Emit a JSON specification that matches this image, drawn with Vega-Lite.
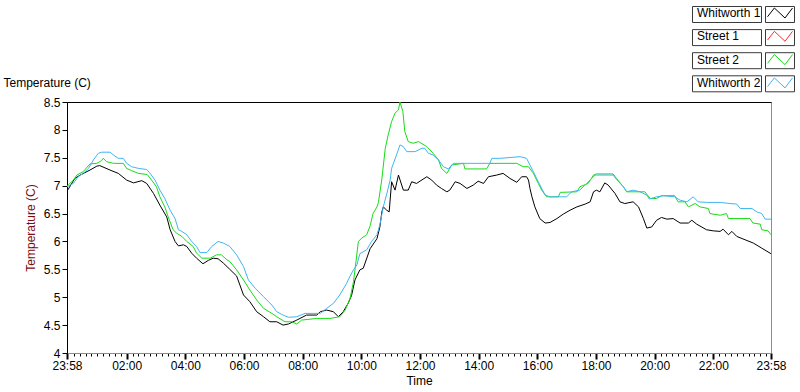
{
  "$schema": "https://vega.github.io/schema/vega-lite/v6.json",
  "autosize": {"type": "none"},
  "padding": {"left": 67, "top": 102, "right": 29, "bottom": 39},
  "width": 704,
  "height": 251,
  "background": "white",
  "config": {
    "font": "Liberation Sans",
    "view": {"stroke": "#8c8c8c", "strokeWidth": 1},
    "axis": {"labelFont": "Liberation Sans", "titleFont": "Liberation Sans", "labelFontSize": 12, "titleFontSize": 12, "titleFontWeight": "normal", "labelColor": "black", "titleColor": "black", "grid": false},
    "axisY": {"titleColor": "#7a0e0e", "titlePadding": 6, "values": [4,4.5,5,5.5,6,6.5,7,7.5,8,8.5], "format": "~g", "labelOverlap": false, "tickSize": 5, "tickColor": "black", "domainColor": "black", "labelPadding": 2}
  },
  "datasets": {
    "temps": [
      {"s":"Whitworth 1","t":0,"v":6.9},{"s":"Whitworth 1","t":16,"v":7.13},{"s":"Whitworth 1","t":27,"v":7.19},{"s":"Whitworth 1","t":47,"v":7.28},{"s":"Whitworth 1","t":61,"v":7.35},{"s":"Whitworth 1","t":67,"v":7.36},{"s":"Whitworth 1","t":88,"v":7.28},{"s":"Whitworth 1","t":105,"v":7.22},{"s":"Whitworth 1","t":122,"v":7.1},{"s":"Whitworth 1","t":136,"v":7.05},{"s":"Whitworth 1","t":153,"v":7.09},{"s":"Whitworth 1","t":163,"v":7.04},{"s":"Whitworth 1","t":177,"v":6.86},{"s":"Whitworth 1","t":190,"v":6.65},{"s":"Whitworth 1","t":204,"v":6.44},{"s":"Whitworth 1","t":211,"v":6.21},{"s":"Whitworth 1","t":221,"v":6.0},{"s":"Whitworth 1","t":228,"v":5.92},{"s":"Whitworth 1","t":238,"v":5.94},{"s":"Whitworth 1","t":245,"v":5.91},{"s":"Whitworth 1","t":255,"v":5.79},{"s":"Whitworth 1","t":265,"v":5.7},{"s":"Whitworth 1","t":278,"v":5.6},{"s":"Whitworth 1","t":289,"v":5.66},{"s":"Whitworth 1","t":299,"v":5.7},{"s":"Whitworth 1","t":309,"v":5.69},{"s":"Whitworth 1","t":320,"v":5.61},{"s":"Whitworth 1","t":333,"v":5.5},{"s":"Whitworth 1","t":347,"v":5.38},{"s":"Whitworth 1","t":361,"v":5.04},{"s":"Whitworth 1","t":374,"v":4.92},{"s":"Whitworth 1","t":388,"v":4.74},{"s":"Whitworth 1","t":402,"v":4.65},{"s":"Whitworth 1","t":415,"v":4.56},{"s":"Whitworth 1","t":429,"v":4.56},{"s":"Whitworth 1","t":442,"v":4.5},{"s":"Whitworth 1","t":453,"v":4.52},{"s":"Whitworth 1","t":470,"v":4.59},{"s":"Whitworth 1","t":490,"v":4.68},{"s":"Whitworth 1","t":511,"v":4.68},{"s":"Whitworth 1","t":518,"v":4.74},{"s":"Whitworth 1","t":531,"v":4.77},{"s":"Whitworth 1","t":545,"v":4.74},{"s":"Whitworth 1","t":555,"v":4.65},{"s":"Whitworth 1","t":565,"v":4.74},{"s":"Whitworth 1","t":575,"v":4.89},{"s":"Whitworth 1","t":582,"v":5.03},{"s":"Whitworth 1","t":589,"v":5.31},{"s":"Whitworth 1","t":599,"v":5.49},{"s":"Whitworth 1","t":606,"v":5.52},{"s":"Whitworth 1","t":620,"v":5.87},{"s":"Whitworth 1","t":634,"v":6.05},{"s":"Whitworth 1","t":640,"v":6.26},{"s":"Whitworth 1","t":644,"v":6.53},{"s":"Whitworth 1","t":647,"v":6.62},{"s":"Whitworth 1","t":654,"v":6.56},{"s":"Whitworth 1","t":659,"v":6.53},{"s":"Whitworth 1","t":664,"v":7.07},{"s":"Whitworth 1","t":671,"v":6.92},{"s":"Whitworth 1","t":678,"v":7.19},{"s":"Whitworth 1","t":688,"v":6.92},{"s":"Whitworth 1","t":698,"v":6.92},{"s":"Whitworth 1","t":705,"v":7.07},{"s":"Whitworth 1","t":715,"v":7.04},{"s":"Whitworth 1","t":736,"v":7.16},{"s":"Whitworth 1","t":746,"v":7.1},{"s":"Whitworth 1","t":756,"v":7.01},{"s":"Whitworth 1","t":766,"v":6.95},{"s":"Whitworth 1","t":777,"v":6.89},{"s":"Whitworth 1","t":783,"v":6.92},{"s":"Whitworth 1","t":794,"v":7.07},{"s":"Whitworth 1","t":804,"v":7.04},{"s":"Whitworth 1","t":818,"v":6.95},{"s":"Whitworth 1","t":831,"v":7.01},{"s":"Whitworth 1","t":841,"v":7.08},{"s":"Whitworth 1","t":852,"v":7.04},{"s":"Whitworth 1","t":862,"v":7.16},{"s":"Whitworth 1","t":879,"v":7.19},{"s":"Whitworth 1","t":892,"v":7.22},{"s":"Whitworth 1","t":906,"v":7.13},{"s":"Whitworth 1","t":920,"v":7.06},{"s":"Whitworth 1","t":930,"v":7.16},{"s":"Whitworth 1","t":940,"v":7.16},{"s":"Whitworth 1","t":944,"v":7.1},{"s":"Whitworth 1","t":947,"v":6.95},{"s":"Whitworth 1","t":951,"v":6.8},{"s":"Whitworth 1","t":957,"v":6.62},{"s":"Whitworth 1","t":967,"v":6.41},{"s":"Whitworth 1","t":978,"v":6.33},{"s":"Whitworth 1","t":988,"v":6.34},{"s":"Whitworth 1","t":1002,"v":6.41},{"s":"Whitworth 1","t":1015,"v":6.49},{"s":"Whitworth 1","t":1029,"v":6.56},{"s":"Whitworth 1","t":1043,"v":6.62},{"s":"Whitworth 1","t":1060,"v":6.67},{"s":"Whitworth 1","t":1070,"v":6.71},{"s":"Whitworth 1","t":1077,"v":6.89},{"s":"Whitworth 1","t":1083,"v":6.92},{"s":"Whitworth 1","t":1090,"v":6.89},{"s":"Whitworth 1","t":1100,"v":7.05},{"s":"Whitworth 1","t":1107,"v":7.01},{"s":"Whitworth 1","t":1121,"v":6.86},{"s":"Whitworth 1","t":1131,"v":6.71},{"s":"Whitworth 1","t":1141,"v":6.68},{"s":"Whitworth 1","t":1158,"v":6.71},{"s":"Whitworth 1","t":1169,"v":6.62},{"s":"Whitworth 1","t":1179,"v":6.41},{"s":"Whitworth 1","t":1186,"v":6.24},{"s":"Whitworth 1","t":1196,"v":6.26},{"s":"Whitworth 1","t":1206,"v":6.38},{"s":"Whitworth 1","t":1216,"v":6.43},{"s":"Whitworth 1","t":1227,"v":6.4},{"s":"Whitworth 1","t":1240,"v":6.41},{"s":"Whitworth 1","t":1254,"v":6.33},{"s":"Whitworth 1","t":1271,"v":6.33},{"s":"Whitworth 1","t":1278,"v":6.38},{"s":"Whitworth 1","t":1288,"v":6.31},{"s":"Whitworth 1","t":1308,"v":6.21},{"s":"Whitworth 1","t":1322,"v":6.19},{"s":"Whitworth 1","t":1336,"v":6.18},{"s":"Whitworth 1","t":1342,"v":6.22},{"s":"Whitworth 1","t":1353,"v":6.12},{"s":"Whitworth 1","t":1360,"v":6.18},{"s":"Whitworth 1","t":1370,"v":6.09},{"s":"Whitworth 1","t":1387,"v":6.03},{"s":"Whitworth 1","t":1404,"v":5.97},{"s":"Whitworth 1","t":1421,"v":5.88},{"s":"Whitworth 1","t":1440,"v":5.78},

      {"s":"Street 2","t":0,"v":6.99},{"s":"Street 2","t":13,"v":7.1},{"s":"Street 2","t":20,"v":7.19},{"s":"Street 2","t":33,"v":7.25},{"s":"Street 2","t":47,"v":7.39},{"s":"Street 2","t":61,"v":7.4},{"s":"Street 2","t":71,"v":7.45},{"s":"Street 2","t":74,"v":7.49},{"s":"Street 2","t":81,"v":7.43},{"s":"Street 2","t":95,"v":7.4},{"s":"Street 2","t":115,"v":7.4},{"s":"Street 2","t":122,"v":7.31},{"s":"Street 2","t":132,"v":7.27},{"s":"Street 2","t":146,"v":7.22},{"s":"Street 2","t":164,"v":7.2},{"s":"Street 2","t":173,"v":7.1},{"s":"Street 2","t":183,"v":6.98},{"s":"Street 2","t":190,"v":6.8},{"s":"Street 2","t":200,"v":6.62},{"s":"Street 2","t":207,"v":6.44},{"s":"Street 2","t":217,"v":6.21},{"s":"Street 2","t":224,"v":6.15},{"s":"Street 2","t":235,"v":6.09},{"s":"Street 2","t":245,"v":6.0},{"s":"Street 2","t":258,"v":5.91},{"s":"Street 2","t":265,"v":5.79},{"s":"Street 2","t":276,"v":5.7},{"s":"Street 2","t":293,"v":5.7},{"s":"Street 2","t":306,"v":5.76},{"s":"Street 2","t":316,"v":5.76},{"s":"Street 2","t":327,"v":5.67},{"s":"Street 2","t":333,"v":5.64},{"s":"Street 2","t":347,"v":5.49},{"s":"Street 2","t":361,"v":5.31},{"s":"Street 2","t":374,"v":5.13},{"s":"Street 2","t":388,"v":4.95},{"s":"Street 2","t":402,"v":4.8},{"s":"Street 2","t":419,"v":4.71},{"s":"Street 2","t":429,"v":4.65},{"s":"Street 2","t":446,"v":4.56},{"s":"Street 2","t":460,"v":4.56},{"s":"Street 2","t":470,"v":4.52},{"s":"Street 2","t":480,"v":4.59},{"s":"Street 2","t":511,"v":4.62},{"s":"Street 2","t":538,"v":4.62},{"s":"Street 2","t":558,"v":4.65},{"s":"Street 2","t":569,"v":4.77},{"s":"Street 2","t":579,"v":4.98},{"s":"Street 2","t":586,"v":5.28},{"s":"Street 2","t":589,"v":5.49},{"s":"Street 2","t":596,"v":6.0},{"s":"Street 2","t":603,"v":6.06},{"s":"Street 2","t":613,"v":6.12},{"s":"Street 2","t":620,"v":6.28},{"s":"Street 2","t":626,"v":6.5},{"s":"Street 2","t":634,"v":6.62},{"s":"Street 2","t":637,"v":6.7},{"s":"Street 2","t":644,"v":7.12},{"s":"Street 2","t":651,"v":7.67},{"s":"Street 2","t":657,"v":7.91},{"s":"Street 2","t":664,"v":8.15},{"s":"Street 2","t":671,"v":8.3},{"s":"Street 2","t":678,"v":8.36},{"s":"Street 2","t":681,"v":8.5},{"s":"Street 2","t":687,"v":8.33},{"s":"Street 2","t":691,"v":7.97},{"s":"Street 2","t":698,"v":7.79},{"s":"Street 2","t":708,"v":7.76},{"s":"Street 2","t":719,"v":7.79},{"s":"Street 2","t":736,"v":7.7},{"s":"Street 2","t":749,"v":7.58},{"s":"Street 2","t":760,"v":7.46},{"s":"Street 2","t":766,"v":7.31},{"s":"Street 2","t":777,"v":7.22},{"s":"Street 2","t":787,"v":7.37},{"s":"Street 2","t":811,"v":7.4},{"s":"Street 2","t":814,"v":7.3},{"s":"Street 2","t":858,"v":7.3},{"s":"Street 2","t":865,"v":7.4},{"s":"Street 2","t":920,"v":7.4},{"s":"Street 2","t":933,"v":7.34},{"s":"Street 2","t":944,"v":7.34},{"s":"Street 2","t":954,"v":7.22},{"s":"Street 2","t":964,"v":7.04},{"s":"Street 2","t":971,"v":6.92},{"s":"Street 2","t":981,"v":6.8},{"s":"Street 2","t":1005,"v":6.8},{"s":"Street 2","t":1009,"v":6.88},{"s":"Street 2","t":1043,"v":6.89},{"s":"Street 2","t":1049,"v":6.98},{"s":"Street 2","t":1066,"v":7.04},{"s":"Street 2","t":1077,"v":7.19},{"s":"Street 2","t":1083,"v":7.21},{"s":"Street 2","t":1117,"v":7.21},{"s":"Street 2","t":1124,"v":7.13},{"s":"Street 2","t":1138,"v":6.98},{"s":"Street 2","t":1145,"v":6.89},{"s":"Street 2","t":1182,"v":6.89},{"s":"Street 2","t":1193,"v":6.77},{"s":"Street 2","t":1206,"v":6.77},{"s":"Street 2","t":1216,"v":6.82},{"s":"Street 2","t":1243,"v":6.82},{"s":"Street 2","t":1250,"v":6.71},{"s":"Street 2","t":1264,"v":6.71},{"s":"Street 2","t":1271,"v":6.62},{"s":"Street 2","t":1285,"v":6.68},{"s":"Street 2","t":1295,"v":6.62},{"s":"Street 2","t":1312,"v":6.59},{"s":"Street 2","t":1315,"v":6.5},{"s":"Street 2","t":1336,"v":6.47},{"s":"Street 2","t":1349,"v":6.5},{"s":"Street 2","t":1353,"v":6.41},{"s":"Street 2","t":1397,"v":6.41},{"s":"Street 2","t":1403,"v":6.33},{"s":"Street 2","t":1418,"v":6.31},{"s":"Street 2","t":1421,"v":6.21},{"s":"Street 2","t":1434,"v":6.19},{"s":"Street 2","t":1440,"v":6.12},

      {"s":"Whitworth 2","t":0,"v":6.98},{"s":"Whitworth 2","t":13,"v":7.04},{"s":"Whitworth 2","t":23,"v":7.16},{"s":"Whitworth 2","t":33,"v":7.22},{"s":"Whitworth 2","t":44,"v":7.31},{"s":"Whitworth 2","t":54,"v":7.46},{"s":"Whitworth 2","t":64,"v":7.58},{"s":"Whitworth 2","t":71,"v":7.6},{"s":"Whitworth 2","t":88,"v":7.6},{"s":"Whitworth 2","t":95,"v":7.55},{"s":"Whitworth 2","t":105,"v":7.49},{"s":"Whitworth 2","t":115,"v":7.49},{"s":"Whitworth 2","t":122,"v":7.4},{"s":"Whitworth 2","t":132,"v":7.34},{"s":"Whitworth 2","t":146,"v":7.31},{"s":"Whitworth 2","t":163,"v":7.29},{"s":"Whitworth 2","t":170,"v":7.22},{"s":"Whitworth 2","t":180,"v":7.1},{"s":"Whitworth 2","t":190,"v":6.92},{"s":"Whitworth 2","t":200,"v":6.77},{"s":"Whitworth 2","t":211,"v":6.56},{"s":"Whitworth 2","t":221,"v":6.41},{"s":"Whitworth 2","t":228,"v":6.21},{"s":"Whitworth 2","t":235,"v":6.18},{"s":"Whitworth 2","t":245,"v":6.12},{"s":"Whitworth 2","t":255,"v":6.0},{"s":"Whitworth 2","t":265,"v":5.91},{"s":"Whitworth 2","t":272,"v":5.8},{"s":"Whitworth 2","t":286,"v":5.8},{"s":"Whitworth 2","t":296,"v":5.91},{"s":"Whitworth 2","t":309,"v":6.0},{"s":"Whitworth 2","t":320,"v":5.97},{"s":"Whitworth 2","t":333,"v":5.91},{"s":"Whitworth 2","t":347,"v":5.76},{"s":"Whitworth 2","t":361,"v":5.55},{"s":"Whitworth 2","t":371,"v":5.31},{"s":"Whitworth 2","t":385,"v":5.16},{"s":"Whitworth 2","t":402,"v":5.01},{"s":"Whitworth 2","t":419,"v":4.86},{"s":"Whitworth 2","t":429,"v":4.74},{"s":"Whitworth 2","t":442,"v":4.68},{"s":"Whitworth 2","t":453,"v":4.64},{"s":"Whitworth 2","t":470,"v":4.65},{"s":"Whitworth 2","t":487,"v":4.71},{"s":"Whitworth 2","t":518,"v":4.71},{"s":"Whitworth 2","t":531,"v":4.8},{"s":"Whitworth 2","t":545,"v":4.89},{"s":"Whitworth 2","t":558,"v":5.04},{"s":"Whitworth 2","t":572,"v":5.25},{"s":"Whitworth 2","t":579,"v":5.38},{"s":"Whitworth 2","t":586,"v":5.49},{"s":"Whitworth 2","t":593,"v":5.58},{"s":"Whitworth 2","t":599,"v":5.78},{"s":"Whitworth 2","t":613,"v":5.85},{"s":"Whitworth 2","t":623,"v":6.0},{"s":"Whitworth 2","t":634,"v":6.12},{"s":"Whitworth 2","t":640,"v":6.3},{"s":"Whitworth 2","t":647,"v":6.62},{"s":"Whitworth 2","t":654,"v":6.85},{"s":"Whitworth 2","t":661,"v":7.1},{"s":"Whitworth 2","t":664,"v":7.31},{"s":"Whitworth 2","t":674,"v":7.55},{"s":"Whitworth 2","t":681,"v":7.73},{"s":"Whitworth 2","t":688,"v":7.7},{"s":"Whitworth 2","t":695,"v":7.61},{"s":"Whitworth 2","t":712,"v":7.61},{"s":"Whitworth 2","t":726,"v":7.67},{"s":"Whitworth 2","t":732,"v":7.67},{"s":"Whitworth 2","t":739,"v":7.58},{"s":"Whitworth 2","t":749,"v":7.55},{"s":"Whitworth 2","t":760,"v":7.46},{"s":"Whitworth 2","t":770,"v":7.34},{"s":"Whitworth 2","t":780,"v":7.3},{"s":"Whitworth 2","t":790,"v":7.4},{"s":"Whitworth 2","t":865,"v":7.4},{"s":"Whitworth 2","t":869,"v":7.49},{"s":"Whitworth 2","t":886,"v":7.49},{"s":"Whitworth 2","t":927,"v":7.52},{"s":"Whitworth 2","t":940,"v":7.49},{"s":"Whitworth 2","t":947,"v":7.37},{"s":"Whitworth 2","t":954,"v":7.25},{"s":"Whitworth 2","t":964,"v":7.07},{"s":"Whitworth 2","t":978,"v":6.83},{"s":"Whitworth 2","t":988,"v":6.8},{"s":"Whitworth 2","t":1022,"v":6.8},{"s":"Whitworth 2","t":1032,"v":6.89},{"s":"Whitworth 2","t":1049,"v":6.92},{"s":"Whitworth 2","t":1063,"v":7.04},{"s":"Whitworth 2","t":1080,"v":7.19},{"s":"Whitworth 2","t":1117,"v":7.19},{"s":"Whitworth 2","t":1124,"v":7.11},{"s":"Whitworth 2","t":1138,"v":6.98},{"s":"Whitworth 2","t":1145,"v":6.89},{"s":"Whitworth 2","t":1158,"v":6.92},{"s":"Whitworth 2","t":1172,"v":6.89},{"s":"Whitworth 2","t":1186,"v":6.83},{"s":"Whitworth 2","t":1191,"v":6.76},{"s":"Whitworth 2","t":1206,"v":6.8},{"s":"Whitworth 2","t":1220,"v":6.82},{"s":"Whitworth 2","t":1243,"v":6.8},{"s":"Whitworth 2","t":1254,"v":6.74},{"s":"Whitworth 2","t":1268,"v":6.71},{"s":"Whitworth 2","t":1281,"v":6.8},{"s":"Whitworth 2","t":1291,"v":6.71},{"s":"Whitworth 2","t":1308,"v":6.7},{"s":"Whitworth 2","t":1336,"v":6.7},{"s":"Whitworth 2","t":1356,"v":6.68},{"s":"Whitworth 2","t":1370,"v":6.67},{"s":"Whitworth 2","t":1377,"v":6.59},{"s":"Whitworth 2","t":1401,"v":6.59},{"s":"Whitworth 2","t":1411,"v":6.53},{"s":"Whitworth 2","t":1421,"v":6.5},{"s":"Whitworth 2","t":1428,"v":6.4},{"s":"Whitworth 2","t":1440,"v":6.4}
    ]
  },
  "data": {"name": "temps"},
  "resolve": {"axis": {"x": "independent"}},
  "layer": [
    {
      "mark": {"type": "point", "opacity": 0, "clip": true},
      "encoding": {
        "x": {"field": "t", "type": "quantitative", "scale": {"domain": [0, 1440], "nice": false, "zero": false},
              "axis": {"orient": "top", "title": "Temperature (C)", "titleAnchor": "start", "titleAlign": "left", "titleX": -64, "titleY": -16, "titleBaseline": "alphabetic", "titleAngle": 0, "labels": false, "ticks": false, "domainColor": "black", "domainWidth": 1}},
        "y": {"field": "v", "type": "quantitative", "scale": {"domain": [4, 8.5], "nice": false, "zero": false}, "axis": {"title": "Temperature (C)"}},
        "shape": {"field": "s", "type": "nominal",
          "scale": {"domain": {"unionWith": ["Whitworth 1", "Street 1", "Street 2", "Whitworth 2"]}, "range": ["M0.5,-7.5H69.5V8.5H0.5Z M73.5,-7.5H102.5V8.5H73.5Z"]},
          "legend": {"orient": "none", "legendX": 619, "legendY": -94, "title": null, "padding": 0,
            "symbolSize": 4, "symbolOpacity": 1, "symbolStrokeWidth": 1, "symbolStrokeColor": "#3a3a3a", "symbolFillColor": "transparent",
            "symbolOffset": 0, "labelExpr": "''", "labelFontSize": 12, "rowPadding": 2.1}}
      }
    },
    {
      "mark": {"type": "line", "strokeWidth": 1, "clip": true},
      "encoding": {
        "x": {"field": "t", "type": "quantitative", "scale": {"domain": [0, 1440], "nice": false, "zero": false},
              "axis": {"orient": "bottom", "title": "Time", "titlePadding": 4, "domainColor": "#8c8c8c", "tickColor": "black", "labelFlush": false, "labelOverlap": false, "labelPadding": 1,
                "values": [0,14,26,38,50,62,74,86,98,110,122,134,146,158,170,182,194,206,218,230,242,254,266,278,290,302,314,326,338,350,362,374,386,398,410,422,434,446,458,470,482,494,506,518,530,542,554,566,578,590,602,614,626,638,650,662,674,686,698,710,722,734,746,758,770,782,794,806,818,830,842,854,866,878,890,902,914,926,938,950,962,974,986,998,1010,1022,1034,1046,1058,1070,1082,1094,1106,1118,1130,1142,1154,1166,1178,1190,1202,1214,1226,1238,1250,1262,1274,1286,1298,1310,1322,1334,1346,1358,1370,1382,1394,1406,1418,1430,1440],
                "tickSize": {"condition": {"test": "datum.value == 0 || datum.value == 1440 || (datum.value - 2) % 120 == 0", "value": 6}, "value": 3},
                "tickWidth": {"condition": {"test": "datum.value == 0 || datum.value == 1440 || (datum.value - 2) % 120 == 0", "value": 2}, "value": 1},
                "labelExpr": "(datum.value == 0 || datum.value == 1440) ? '23:58' : ((datum.value - 2) % 120 == 0 ? (((datum.value + 1438) % 1440) / 60 < 10 ? '0' : '') + floor(((datum.value + 1438) % 1440) / 60) + ':00' : '')"}},
        "y": {"field": "v", "type": "quantitative", "scale": {"domain": [4, 8.5], "nice": false, "zero": false}, "axis": {"title": "Temperature (C)"}},
        "color": {"field": "s", "type": "nominal",
          "scale": {"domain": ["Whitworth 1", "Street 1", "Street 2", "Whitworth 2"], "range": ["#000000", "#ff2a2a", "#16dc16", "#3fb6f2"]},
          "legend": {"orient": "none", "legendX": 626, "legendY": -102, "title": null, "padding": 0,
            "symbolType": "M-1,0.3L-0.45,-0.4L0.4,0.4L1,-0.4", "symbolSize": 625, "symbolStrokeWidth": 1, "symbolFillColor": "transparent",
            "symbolOffset": 74, "labelOffset": -96, "labelFontSize": 12, "labelFont": "Liberation Sans", "labelColor": "black", "rowPadding": 3.3, "labelLimit": 90}}
      }
    }
  ]
}
